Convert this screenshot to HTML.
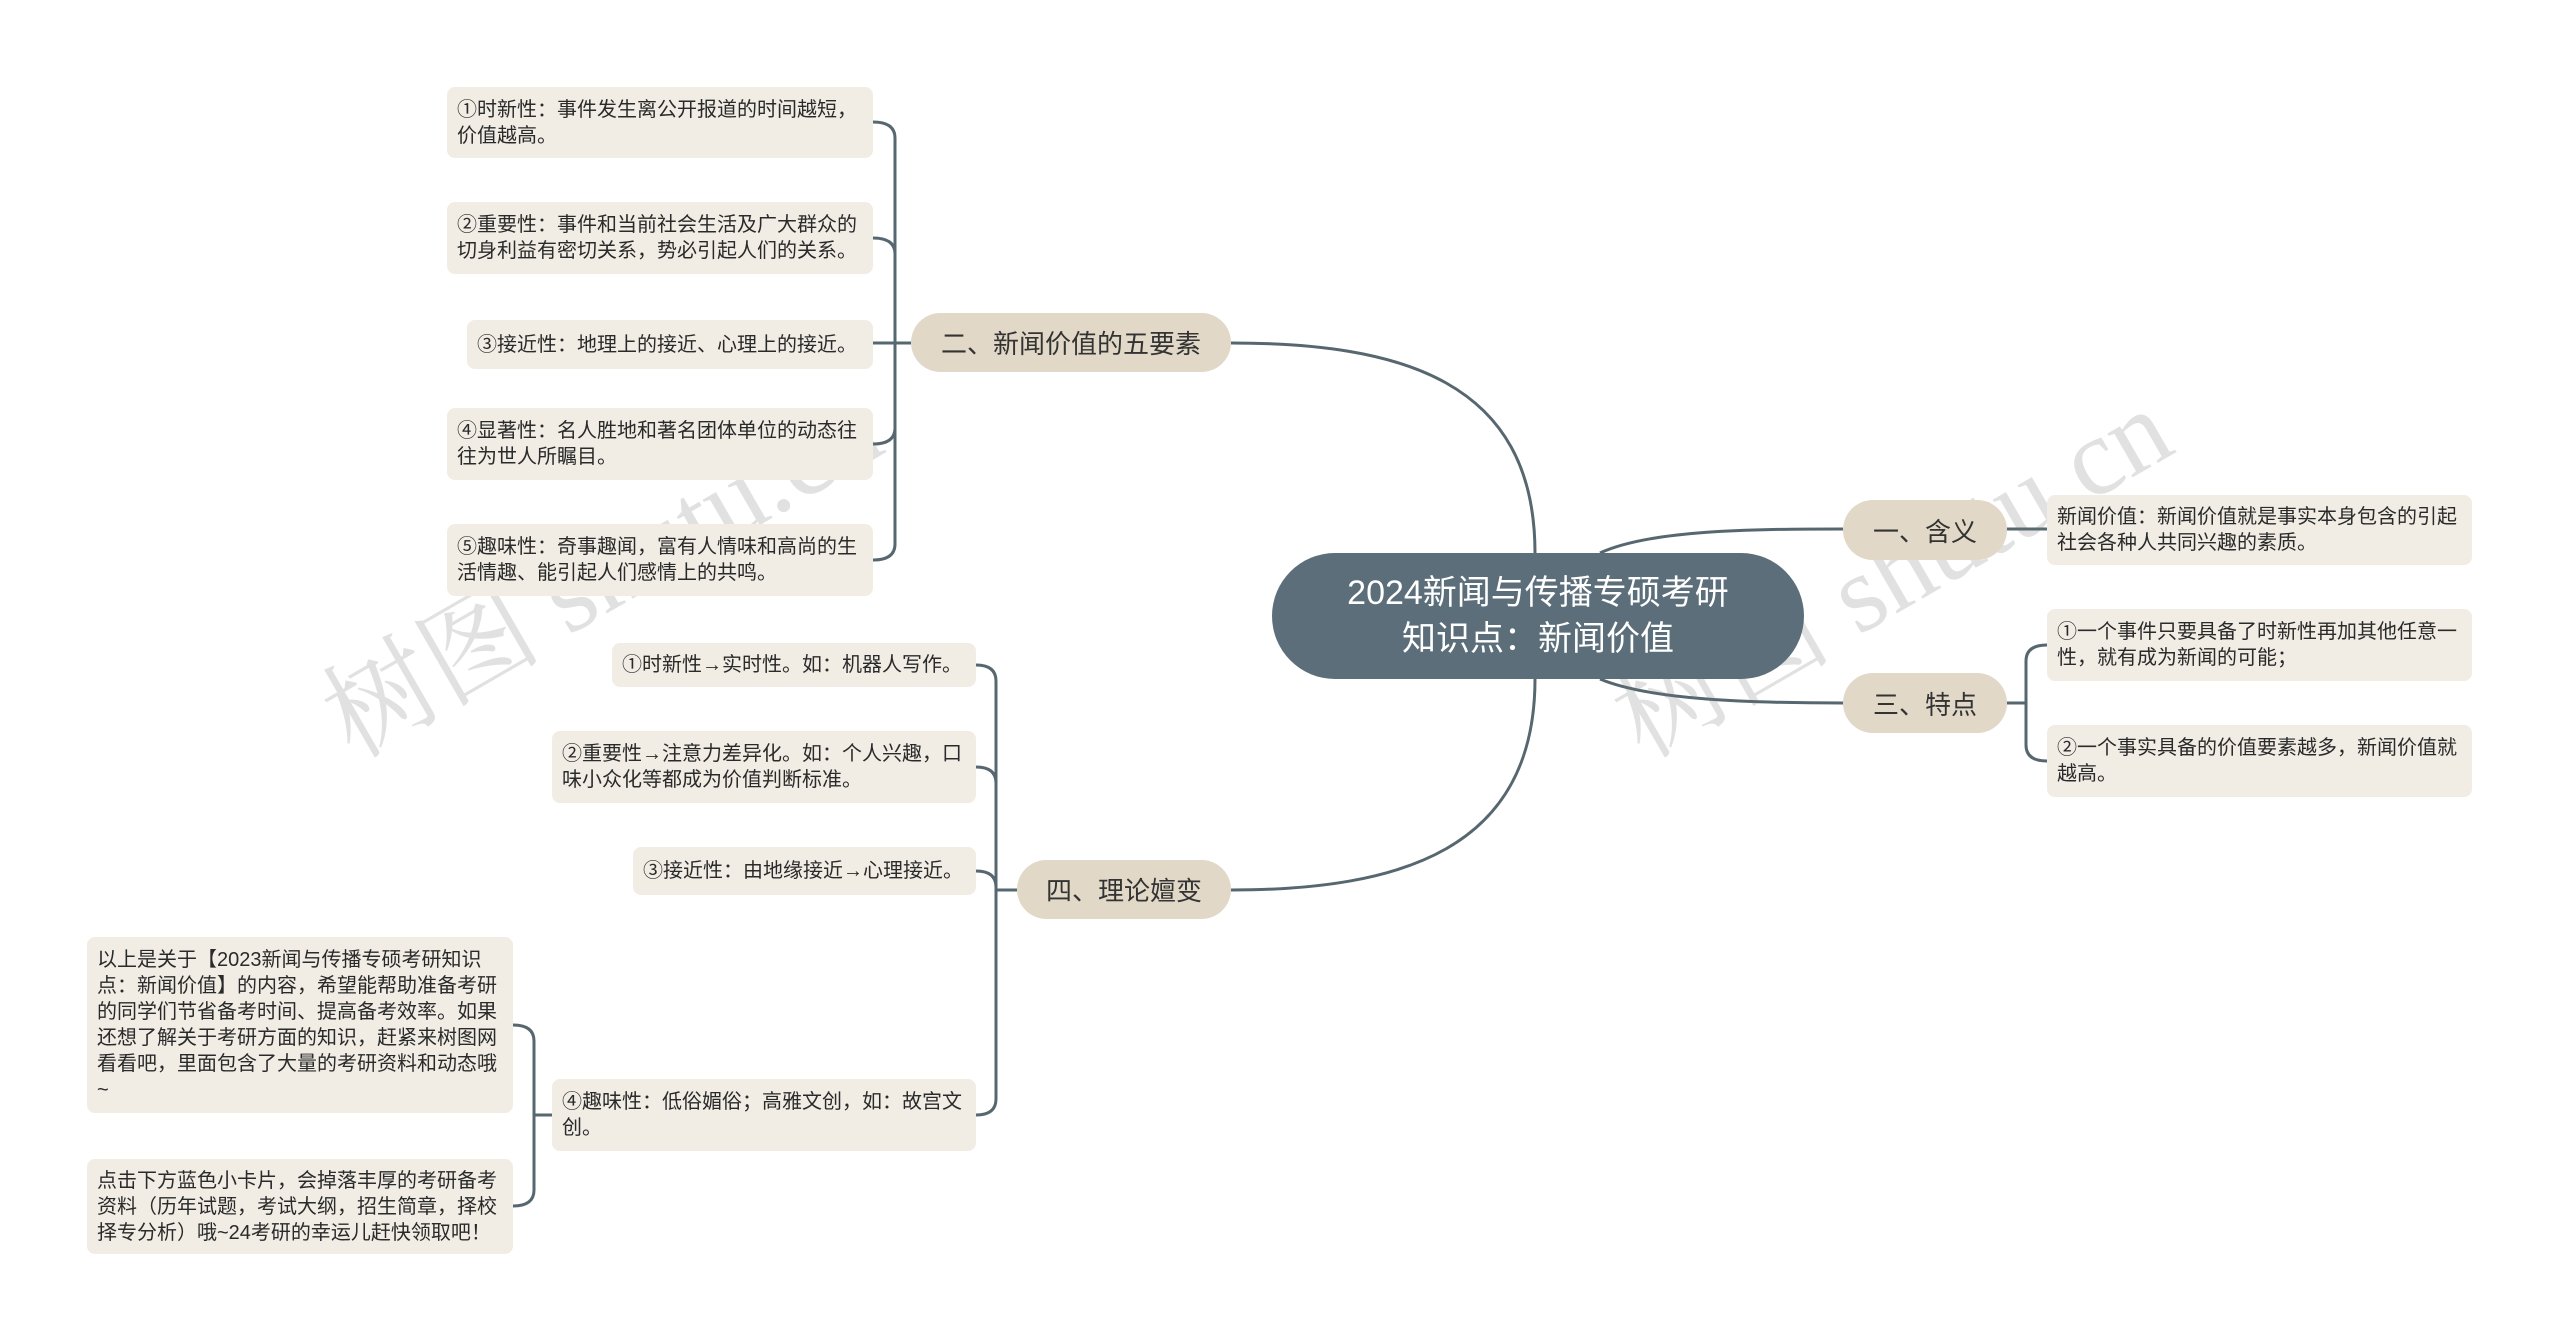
<!DOCTYPE html>
<html><head><meta charset="utf-8">
<style>
html,body{margin:0;padding:0;background:#fff;}
body{width:2560px;height:1344px;position:relative;overflow:hidden;font-family:"Liberation Sans","Noto Sans CJK SC",sans-serif;}
.n{position:absolute;box-sizing:border-box;}
.root{background:#5b6e7a;color:#fff;border-radius:63px;font-size:34px;line-height:46px;text-align:center;display:flex;align-items:center;justify-content:center;}
.br{background:#e2d8c8;color:#333;border-radius:30px;font-size:26px;display:flex;align-items:center;justify-content:center;}
.lf{background:#f1ede5;color:#2a2a2a;border-radius:8px;font-size:20px;line-height:26px;padding:9px 10px 9px 10px;display:flex;align-items:center;}
.wm{position:absolute;font-family:"Liberation Serif","Noto Serif CJK SC",serif;font-size:110px;color:rgba(120,120,120,0.22);transform:rotate(-30deg);white-space:nowrap;transform-origin:left center;}
</style></head><body>
<svg width="2560" height="1344" style="position:absolute;left:0;top:0" fill="none" stroke="#56676f" stroke-width="3">
<path d="M1535,553 C1535,380 1400,343 1231,343"/>
<path d="M1535,679 C1535,850 1400,890 1231,890"/>
<path d="M1600,553 C1650,530 1750,529 1843,529"/>
<path d="M1600,679 C1650,700 1750,703 1843,703"/>
<path d="M2007,529 H2047"/>
<path d="M911,343 H895 V138 Q895,122 873,122"/>
<path d="M895,343 V254 Q895,238 873,238"/>
<path d="M895,343 H873"/>
<path d="M895,343 V428 Q895,444 873,444"/>
<path d="M895,343 V544 Q895,560 873,560"/>
<path d="M2007,703 H2026 V661 Q2026,645 2047,645"/>
<path d="M2026,703 V745 Q2026,761 2047,761"/>
<path d="M1017,890 H996 V681 Q996,665 976,665"/>
<path d="M996,890 V783 Q996,767 976,767"/>
<path d="M996,890 V887 Q996,871 976,871"/>
<path d="M996,890 V1099 Q996,1115 976,1115"/>
<path d="M552,1115 H534 V1041 Q534,1025 513,1025"/>
<path d="M534,1115 V1190 Q534,1206 513,1206"/>
</svg>

<div class="wm" style="left:330px;top:640px;">树图 shutu.cn</div>
<div class="wm" style="left:1620px;top:640px;">树图 shutu.cn</div>

<div class="n root" style="left:1272px;top:553px;width:532px;height:126px;">2024新闻与传播专硕考研<br>知识点：新闻价值</div>

<div class="n br" style="left:911px;top:313px;width:320px;height:59px;">二、新闻价值的五要素</div>
<div class="n br" style="left:1843px;top:500px;width:164px;height:60px;">一、含义</div>
<div class="n br" style="left:1843px;top:673px;width:164px;height:60px;">三、特点</div>
<div class="n br" style="left:1017px;top:860px;width:214px;height:59px;">四、理论嬗变</div>

<div class="n lf" style="left:447px;top:87px;width:426px;height:71px;">①时新性：事件发生离公开报道的时间越短，价值越高。</div>
<div class="n lf" style="left:447px;top:202px;width:426px;height:72px;">②重要性：事件和当前社会生活及广大群众的切身利益有密切关系，势必引起人们的关系。</div>
<div class="n lf" style="left:467px;top:320px;width:406px;height:49px;">③接近性：地理上的接近、心理上的接近。</div>
<div class="n lf" style="left:447px;top:408px;width:426px;height:72px;">④显著性：名人胜地和著名团体单位的动态往往为世人所瞩目。</div>
<div class="n lf" style="left:447px;top:524px;width:426px;height:72px;">⑤趣味性：奇事趣闻，富有人情味和高尚的生活情趣、能引起人们感情上的共鸣。</div>

<div class="n lf" style="left:2047px;top:495px;width:425px;height:70px;">新闻价值：新闻价值就是事实本身包含的引起社会各种人共同兴趣的素质。</div>
<div class="n lf" style="left:2047px;top:609px;width:425px;height:72px;">①一个事件只要具备了时新性再加其他任意一性，就有成为新闻的可能；</div>
<div class="n lf" style="left:2047px;top:725px;width:425px;height:72px;">②一个事实具备的价值要素越多，新闻价值就越高。</div>

<div class="n lf" style="left:612px;top:643px;width:364px;height:44px;">①时新性→实时性。如：机器人写作。</div>
<div class="n lf" style="left:552px;top:731px;width:424px;height:72px;">②重要性→注意力差异化。如：个人兴趣，口味小众化等都成为价值判断标准。</div>
<div class="n lf" style="left:633px;top:847px;width:343px;height:48px;">③接近性：由地缘接近→心理接近。</div>
<div class="n lf" style="left:552px;top:1079px;width:424px;height:72px;">④趣味性：低俗媚俗；高雅文创，如：故宫文创。</div>

<div class="n lf" style="left:87px;top:937px;width:426px;height:176px;">以上是关于【2023新闻与传播专硕考研知识点：新闻价值】的内容，希望能帮助准备考研的同学们节省备考时间、提高备考效率。如果还想了解关于考研方面的知识，赶紧来树图网看看吧，里面包含了大量的考研资料和动态哦~</div>
<div class="n lf" style="left:87px;top:1159px;width:426px;height:95px;">点击下方蓝色小卡片，会掉落丰厚的考研备考资料（历年试题，考试大纲，招生简章，择校择专分析）哦~24考研的幸运儿赶快领取吧！</div>
</body></html>
